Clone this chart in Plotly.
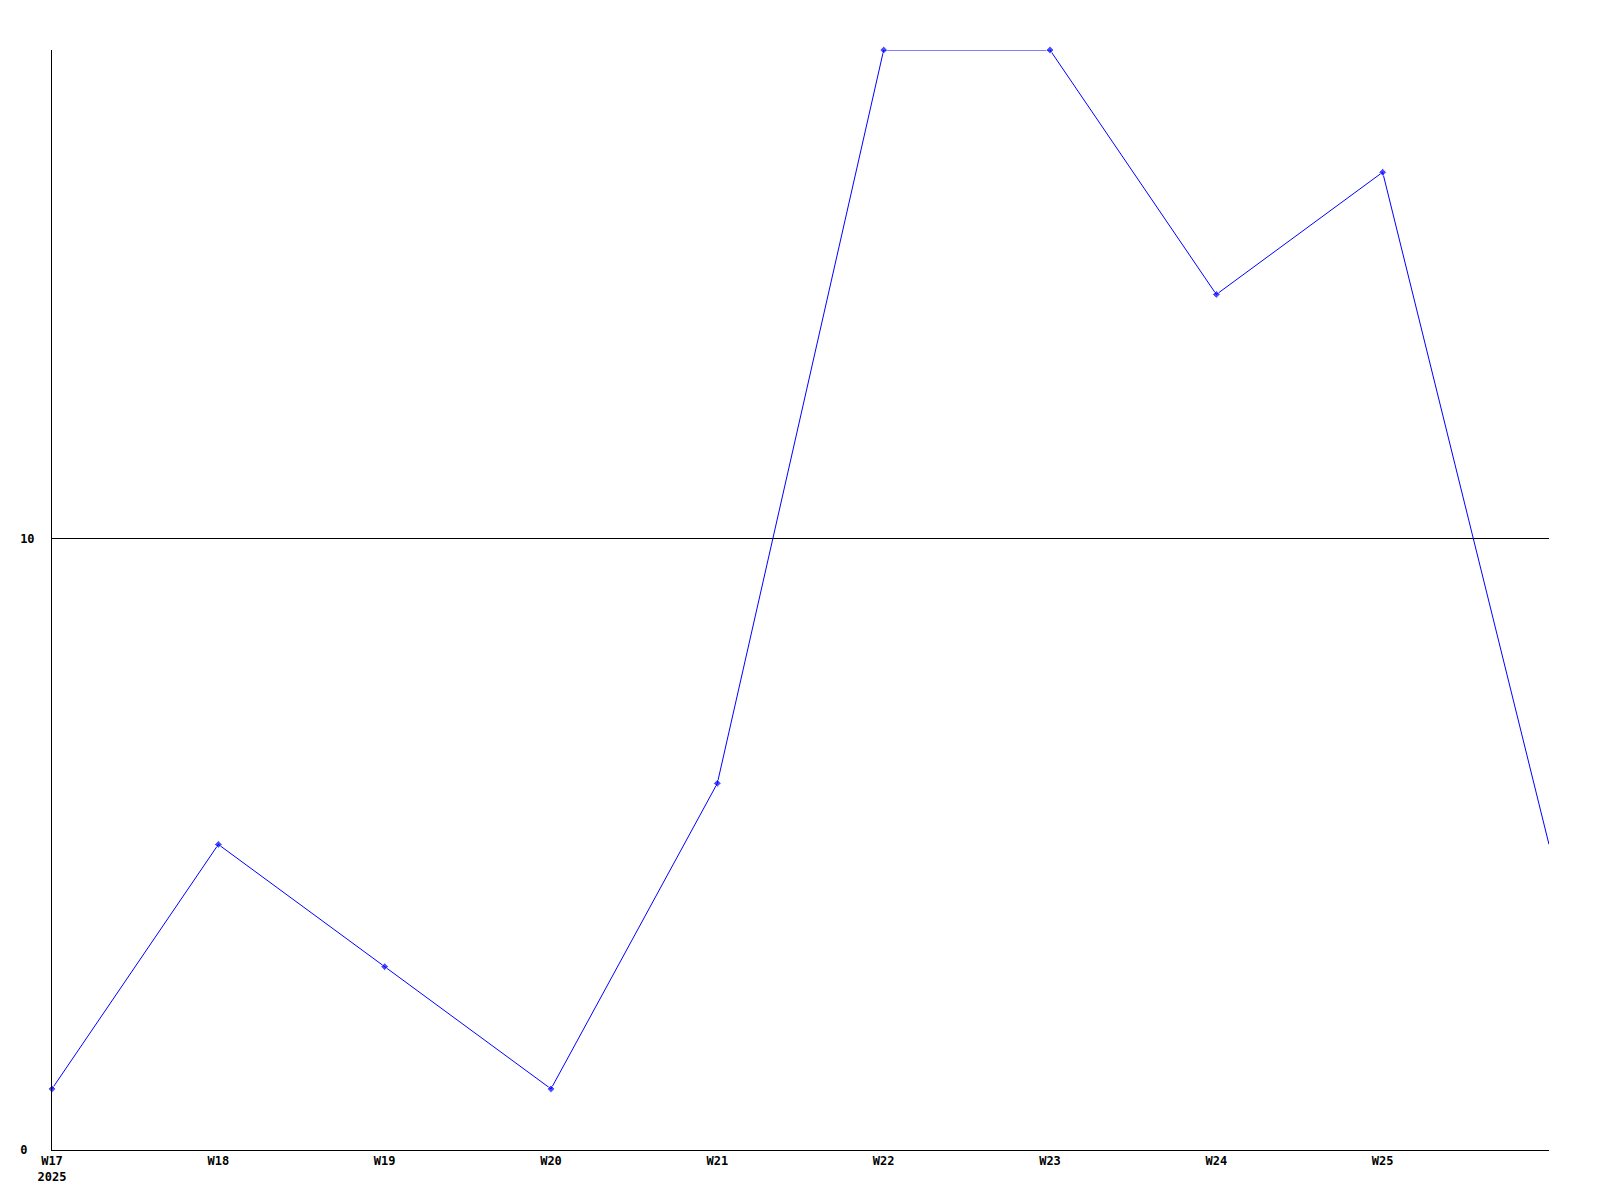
import plotly.graph_objects as go

weeks = ["W17", "W18", "W19", "W20", "W21", "W22", "W23", "W24", "W25", "W26"]
tick_labels = ["W17<br>2025", "W18", "W19", "W20", "W21", "W22", "W23", "W24", "W25"]
values = [1, 5, 3, 1, 6, 18, 18, 14, 16, 5]
y_ticks = [0, 10]
y_tick_labels = ["0\u00a0", "10"]

x_idx = list(range(len(weeks)))
marker_sizes = [6] * (len(weeks) - 1) + [0]

fig = go.Figure()
fig.add_trace(go.Scatter(
    x=x_idx, y=values, mode="lines+markers",
    line=dict(color="#0000ff", width=1),
    marker=dict(color="#0000ff", size=marker_sizes, symbol="diamond"),
    cliponaxis=False, showlegend=False,
))

font = dict(family="DejaVu Sans Mono", size=12, color="black", weight="bold")

fig.update_layout(
    width=1600, height=1200,
    margin=dict(l=41, r=59, t=42, b=58),
    paper_bgcolor="white", plot_bgcolor="white",
    font=font,
    xaxis=dict(
        range=[0, len(weeks) - 1],
        tickmode="array", tickvals=x_idx[:-1], ticktext=tick_labels,
        showgrid=False, zeroline=False,
        showline=True, linecolor="black", linewidth=1,
        ticks="", tickfont=font,
    ),
    yaxis=dict(
        range=[0, 18], tickmode="array", tickvals=y_ticks, ticktext=y_tick_labels,
        showgrid=True, gridcolor="black", gridwidth=1,
        zeroline=False, showline=True, linecolor="black", linewidth=1,
        ticks="", tickfont=font, ticklabelstandoff=14,
    ),
)

fig.write_html("out.html")
